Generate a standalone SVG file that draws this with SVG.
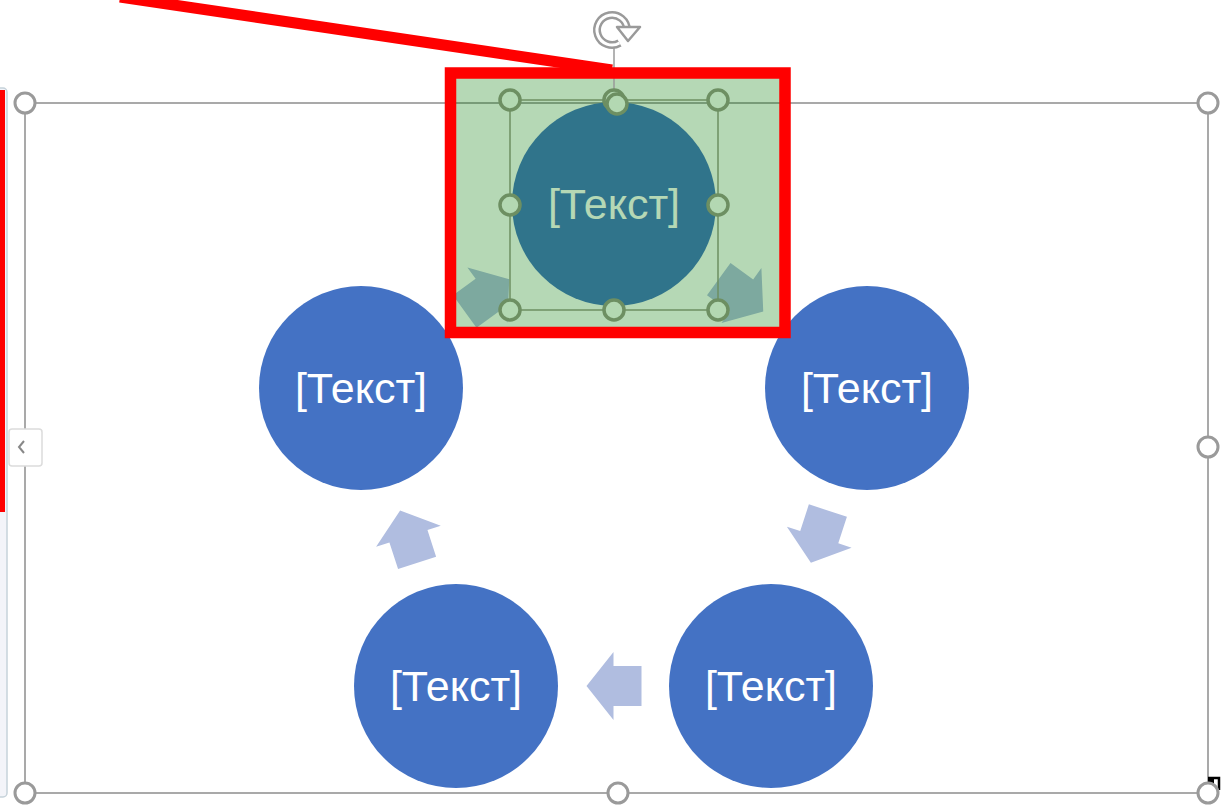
<svg xmlns="http://www.w3.org/2000/svg" width="1221" height="805" viewBox="0 0 1221 805">
<style>
.frame{fill:none;stroke:#a9a9a9;stroke-width:2}
.h{fill:#fff;stroke:#9a9a9a;stroke-width:3}
.c{fill:#4472c4}
.t{font-family:"Liberation Sans",Arial,sans-serif;font-size:43px;fill:#fff;text-anchor:middle}
.a{fill:#b0bde0}
.ih{fill:#b3d8b2;stroke:#6d8f62;stroke-width:3.5}
</style>
<defs>
<polygon id="arr" points="-27.5,-20 0.5,-20 0.5,-34 27.5,0 0.5,34 0.5,20 -27.5,20"/>
</defs>
<rect width="1221" height="805" fill="#fff"/>
<!-- left panel -->
<rect x="-6" y="88" width="13" height="709" rx="4" fill="#f3f4f9" stroke="#c6d2da" stroke-width="1.5"/>
<rect x="0" y="90" width="5" height="422" fill="#ff0000"/>
<!-- outer selection frame -->
<g id="frame">
<rect class="frame" x="25" y="103" width="1183" height="690"/>
<rect x="9" y="429" width="33" height="37" rx="3" fill="#fff" stroke="#dcdcdc" stroke-width="1.5"/>
<polyline points="24,441 19,447 24,453" fill="none" stroke="#888" stroke-width="2"/>
<path d="M1208,778 h11 v12" fill="none" stroke="#000" stroke-width="2.5"/>
<rect x="1208" y="778" width="6" height="7" fill="#000"/>
<circle class="h" cx="25" cy="103" r="10"/>
<circle class="h" cx="1208" cy="103" r="10"/>
<circle class="h" cx="1208" cy="447" r="10"/>
<circle class="h" cx="1208" cy="793" r="10"/>
<circle class="h" cx="618" cy="793" r="10"/>
<circle class="h" cx="25" cy="793" r="10"/>
<circle class="h" cx="614" cy="103" r="10"/>
</g>
<!-- connectors -->
<g id="connectors">
<use href="#arr" class="a" transform="translate(614,686) rotate(180)"/>
<use href="#arr" class="a" transform="translate(819.4,536.7) rotate(108)"/>
<use href="#arr" class="a" transform="translate(408.6,536.7) rotate(252)"/>
<use href="#arr" class="a" transform="translate(741,295.3) rotate(36)"/>
<use href="#arr" class="a" transform="translate(487,295.3) rotate(-36)"/>
</g>
<g id="node-top"><circle class="c" cx="614" cy="204" r="102"/><text class="t" x="614" y="219">[Текст]</text></g>
<g id="node-right"><circle class="c" cx="867" cy="388" r="102"/><text class="t" x="867" y="403">[Текст]</text></g>
<g id="node-bottom-right"><circle class="c" cx="771" cy="686" r="102"/><text class="t" x="771" y="701">[Текст]</text></g>
<g id="node-bottom-left"><circle class="c" cx="456" cy="686" r="102"/><text class="t" x="456" y="701">[Текст]</text></g>
<g id="node-left"><circle class="c" cx="361" cy="388" r="102"/><text class="t" x="361" y="403">[Текст]</text></g>
<!-- green highlight overlay -->
<rect x="450.5" y="73" width="334.5" height="259.5" fill="#007800" opacity="0.29"/>
<!-- inner selection -->
<g id="inner-selection">
<rect x="510" y="100" width="208" height="210" fill="none" stroke="#6d8f62" stroke-width="1.5"/>
<line x1="614" y1="48" x2="614" y2="100" stroke="#9a9a9a" stroke-width="1.5"/>
<circle class="ih" cx="510" cy="100" r="10"/>
<circle class="ih" cx="614" cy="100" r="10"/>
<circle class="ih" cx="617" cy="104" r="10"/>
<circle class="ih" cx="718" cy="100" r="10"/>
<circle class="ih" cx="510" cy="205" r="10"/>
<circle class="ih" cx="718" cy="205" r="10"/>
<circle class="ih" cx="510" cy="310" r="10"/>
<circle class="ih" cx="614" cy="310" r="10"/>
<circle class="ih" cx="718" cy="310" r="10"/>
</g>
<!-- rotation handle -->
<g id="rotate">
<path d="M619.5,42.99 A15,15 0 1 1 627,30" fill="none" stroke="#9a9a9a" stroke-width="8"/>
<path d="M619.5,42.99 A15,15 0 1 1 627,30" fill="none" stroke="#fff" stroke-width="3"/>
<polygon points="617,27 640,27 628,41" fill="#fff" stroke="#9a9a9a" stroke-width="2.5" stroke-linejoin="round"/>
</g>
<!-- red annotation -->
<g id="annotation">
<line x1="120" y1="-3" x2="612" y2="70" stroke="#ff0000" stroke-width="11"/>
<rect x="450.5" y="73" width="334.5" height="259.5" fill="none" stroke="#ff0000" stroke-width="11.5"/>
</g>
</svg>
